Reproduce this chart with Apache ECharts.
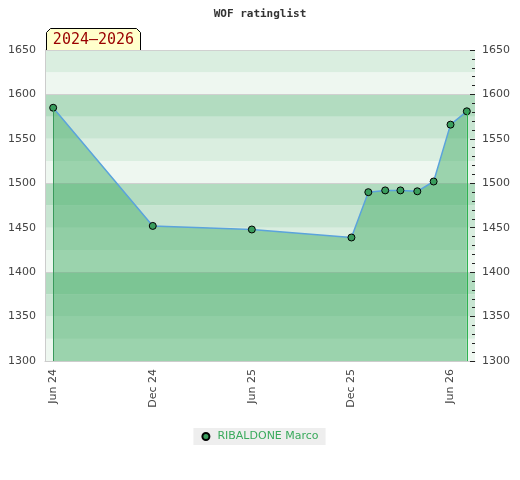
<!DOCTYPE html>
<html>
<head>
<meta charset="utf-8">
<script src="https://cdn.jsdelivr.net/npm/echarts@6/dist/echarts.min.js"></script>
<style>
  html, body { margin: 0; padding: 0; background: #fff; }
  #chart { width: 520px; height: 480px; }
</style>
</head>
<body>
<div id="chart"></div>
<script>
var dates = ['2024-06-01', '2024-12-01', '2025-06-01', '2025-12-01', '2026-01-01', '2026-02-01',
  '2026-03-01', '2026-04-01', '2026-05-01', '2026-06-01', '2026-07-01'];
var ratings = [1585, 1452, 1448, 1439, 1490, 1492, 1492, 1491, 1502, 1566, 1581];
var tickDates = ['2024-06-01', '2024-12-01', '2025-06-01', '2025-12-01', '2026-06-01'];
var tickLabels = ['Jun 24', 'Dec 24', 'Jun 25', 'Dec 25', 'Jun 26'];
var playerName = 'RIBALDONE Marco';
var periodLabel = '2024\u20132026';
var yMin = 1300, yMax = 1650;

var bandColors = ['#eef7f0', '#daeee0', '#c8e5d2', '#b2dcc0'];
var halfMonth = 15 * 24 * 3600 * 1000;

function toTime(d) { return Date.parse(d + 'T00:00:00Z'); }
var tickTimes = tickDates.map(toTime);
var points = dates.map(function (d, i) { return [toTime(d), ratings[i]]; });
var first = points[0], last = points[points.length - 1];

var myChart = echarts.init(document.getElementById('chart'));
var axisFont = { fontFamily: 'DejaVu Sans', fontSize: 11, color: '#444' };
function plain(v) { return String(v); }

var option = {
  animation: false,
  title: {
    text: 'WOF ratinglist',
    left: 'center',
    top: 4,
    textStyle: { fontFamily: 'DejaVu Sans Mono', fontWeight: 'bold', fontSize: 11, color: '#333' }
  },
  grid: { left: 45, right: 45, top: 50, bottom: 119 },
  legend: {
    bottom: 35,
    left: 'center',
    backgroundColor: '#eeeeee',
    padding: [3, 7, 3, 8],
    icon: 'circle',
    itemWidth: 7,
    itemHeight: 7,
    textStyle: { fontFamily: 'DejaVu Sans', fontSize: 11, color: '#3aaa5c', padding: [0, 0, 0, 3] },
    data: [playerName]
  },
  graphic: [{
    type: 'group',
    left: 46,
    top: 28,
    z: 100,
    children: [{
      type: 'polygon',
      shape: { points: [[0, 22], [0, 4], [4, 0], [90, 0], [94, 4], [94, 22]] },
      style: { fill: '#ffffcc', stroke: '#000', lineWidth: 1 }
    }, {
      type: 'text',
      x: 47,
      y: 12,
      style: {
        text: periodLabel,
        fill: '#990000',
        font: '15px "DejaVu Sans Mono"',
        align: 'center',
        verticalAlign: 'middle'
      }
    }]
  }],
  xAxis: {
    type: 'value',
    min: function (v) { return v.min - halfMonth; },
    max: function (v) { return v.max + halfMonth; },
    axisLine: { lineStyle: { color: '#cccccc' } },
    axisTick: { show: false },
    splitLine: { show: false },
    axisLabel: Object.assign({
      rotate: 90,
      margin: 8,
      customValues: tickTimes,
      formatter: function (v) {
        var i = tickTimes.indexOf(v);
        return i >= 0 ? tickLabels[i] : '';
      }
    }, axisFont)
  },
  yAxis: [{
    type: 'value', position: 'left', min: yMin, max: yMax, interval: 50,
    axisLine: { show: true, lineStyle: { color: '#cccccc' } },
    axisTick: { show: false },
    splitLine: { show: false },
    axisLabel: Object.assign({ margin: 9, formatter: plain }, axisFont)
  }, {
    type: 'value', position: 'right', min: yMin, max: yMax, interval: 50,
    axisLine: { show: false },
    axisTick: { show: true, inside: true, length: 5, lineStyle: { color: '#222' } },
    minorTick: { show: true, splitNumber: 5, length: 3, lineStyle: { color: '#222' } },
    splitLine: { show: false },
    axisLabel: Object.assign({ margin: 7, formatter: plain }, axisFont)
  }, {
    type: 'value', position: 'left', min: yMin, max: yMax, interval: 25,
    axisLine: { show: false }, axisTick: { show: false }, axisLabel: { show: false },
    splitLine: { show: false },
    splitArea: { show: true, areaStyle: { color: bandColors } }
  }, {
    type: 'value', position: 'left', min: yMin, max: yMax, interval: 100,
    axisLine: { show: false }, axisTick: { show: false }, axisLabel: { show: false },
    splitLine: { show: true, lineStyle: { color: '#d0d0d0', width: 1 } }
  }],
  series: [{
    name: playerName,
    type: 'line',
    yAxisIndex: 0,
    data: points,
    symbol: 'circle',
    symbolSize: 7,
    itemStyle: { color: '#3a9d5d', borderColor: '#000', borderWidth: 1 },
    lineStyle: { color: '#5ba3dc', width: 1.5 },
    areaStyle: { color: 'rgb(64,172,100)', opacity: 0.48, origin: 'start' },
    markLine: {
      silent: true,
      symbol: 'none',
      label: { show: false },
      lineStyle: { type: 'solid', width: 1, color: '#3a9a5c' },
      data: [
        [{ coord: [first[0], yMin] }, { coord: first }],
        [{ coord: [last[0], yMin], lineStyle: { color: '#2eb351' } }, { coord: last }]
      ]
    }
  }]
};
myChart.setOption(option);
</script>
</body>
</html>
